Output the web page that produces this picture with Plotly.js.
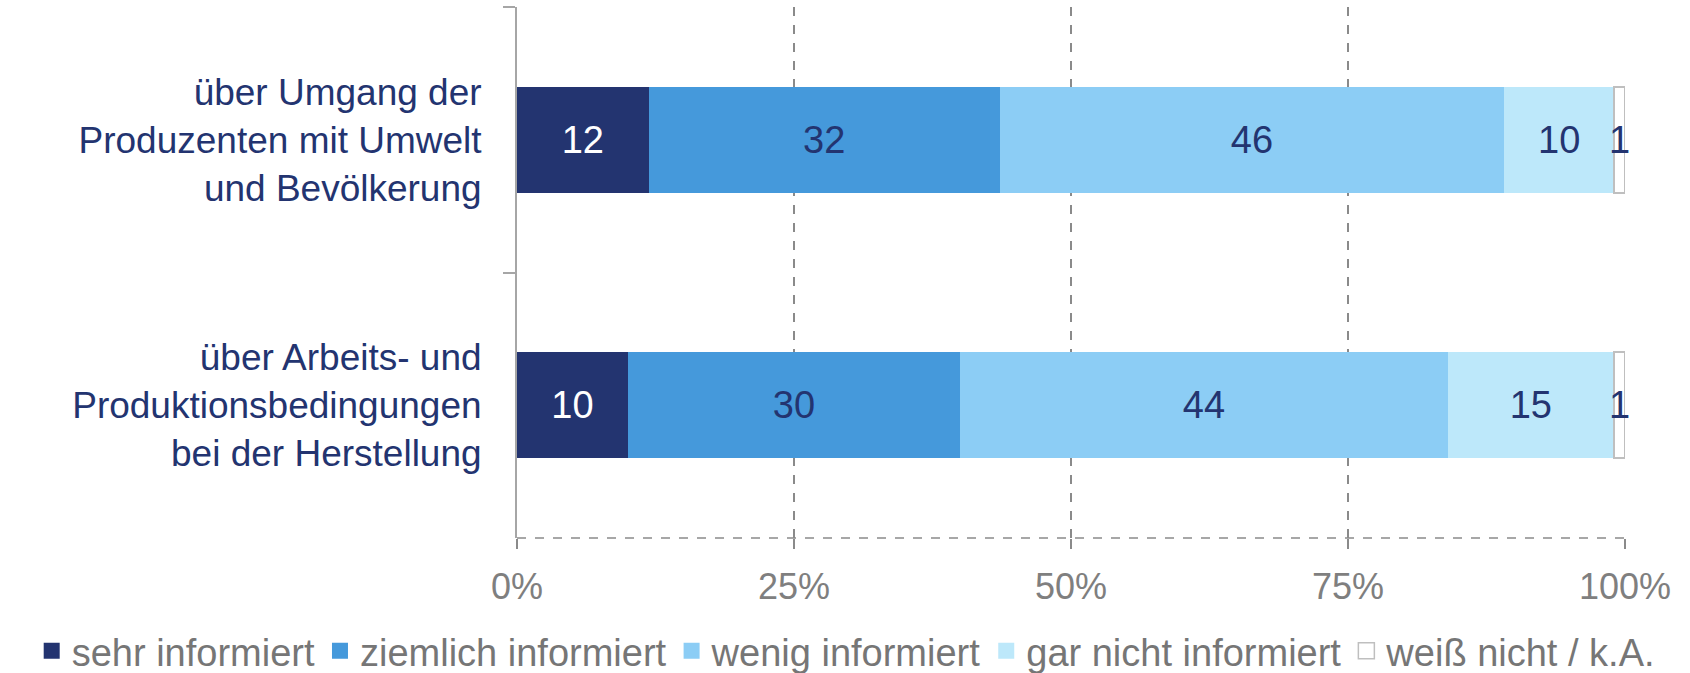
<!DOCTYPE html>
<html>
<head>
<meta charset="utf-8">
<script src="https://cdn.plot.ly/plotly-3.0.1.min.js"></script>
<style>html,body{margin:0;padding:0;background:#fff;}#chart{width:1690px;height:673px;}</style>
</head>
<body>
<div id="chart"></div>
<script>
const categories = [
  "über Umgang der<br>Produzenten mit Umwelt<br>und Bevölkerung",
  "über Arbeits- und<br>Produktionsbedingungen<br>bei der Herstellung"
];
const seriesNames = ["sehr informiert", "ziemlich informiert", "wenig informiert", "gar nicht informiert", "weiß nicht / k.A."];
const sehr = [12, 10];
const ziemlich = [32, 30];
const wenig = [46, 44];
const garNicht = [10, 15];
const weissNicht = [1, 1];
const xTickVals = [0, 25, 50, 75, 100];
const xTickText = ["0%", "25%", "50%", "75%", "100%"];

const seriesValues = [sehr, ziemlich, wenig, garNicht, weissNicht];
const colors = ["#233470", "#4599db", "#8ccdf5", "#bde8fa", "#ffffff"];
const textColors = ["#ffffff", "#233470", "#233470", "#233470", "#233470"];
const lineColors = [null, null, null, null, "#bfbfbf"];
const FONT = "Liberation Sans, Arial, sans-serif";

const traces = [];
seriesValues.forEach((vals, i) => {
  traces.push({
    type: "bar",
    orientation: "h",
    y: categories,
    x: vals,
    text: vals.map(String),
    texttemplate: "%{text}",
    textposition: "inside",
    insidetextanchor: "middle",
    constraintext: "none",
    textangle: 0,
    textfont: {family: FONT, size: 38, color: textColors[i]},
    marker: {color: colors[i], line: {color: lineColors[i] || colors[i], width: lineColors[i] ? 2 : 0}},
    width: 0.4,
    showlegend: false,
    hoverinfo: "skip",
    cliponaxis: false
  });
});
seriesNames.forEach((name, i) => {
  traces.push({
    type: "scatter",
    mode: "markers",
    x: [null],
    y: [null],
    name: name,
    marker: {symbol: "square", size: 16, color: colors[i], line: {color: lineColors[i] || colors[i], width: lineColors[i] ? 1.5 : 0}},
    showlegend: true
  });
});

const layout = {
  width: 1690,
  height: 673,
  margin: {l: 517, r: 65, t: 7, b: 135, autoexpand: false},
  paper_bgcolor: "#ffffff",
  plot_bgcolor: "#ffffff",
  barmode: "stack",
  barnorm: "percent",
  font: {family: FONT},
  xaxis: {
    range: [0, 100],
    tickvals: xTickVals,
    ticktext: xTickText,
    tickfont: {family: FONT, size: 36, color: "#7f7f7f"},
    showgrid: true,
    gridcolor: "#8a8a8a",
    griddash: "dash",
    gridwidth: 1.5,
    zeroline: false,
    showline: false,
    ticks: "outside",
    ticklen: 10,
    tickcolor: "#8a8a8a",
    tickwidth: 1.5,
    ticklabelstandoff: 7,
    automargin: false,
    fixedrange: true
  },
  yaxis: {
    type: "category",
    categoryorder: "array",
    categoryarray: categories,
    autorange: "reversed",
    tickfont: {family: FONT, size: 37, color: "#233470"},
    showline: true,
    linecolor: "#a6a6a6",
    linewidth: 2,
    ticks: "outside",
    tickson: "boundaries",
    ticklen: 12,
    tickcolor: "#a6a6a6",
    tickwidth: 2,
    ticklabelstandoff: 26,
    showgrid: false,
    zeroline: false,
    automargin: false,
    fixedrange: true
  },
  shapes: [{
    type: "line", xref: "paper", yref: "paper",
    x0: 0, x1: 1, y0: 0, y1: 0,
    line: {color: "#8a8a8a", width: 1.5, dash: "dash"}
  }],
  legend: {
    orientation: "h",
    traceorder: "normal",
    x: -0.438,
    xanchor: "left",
    y: -0.213,
    yanchor: "middle",
    font: {family: FONT, size: 38, color: "#767676"},
    itemwidth: 30,
    tracegroupgap: 0
  },
  showlegend: true
};

Plotly.newPlot("chart", traces, layout, {displayModeBar: false, staticPlot: true});
</script>
</body>
</html>
